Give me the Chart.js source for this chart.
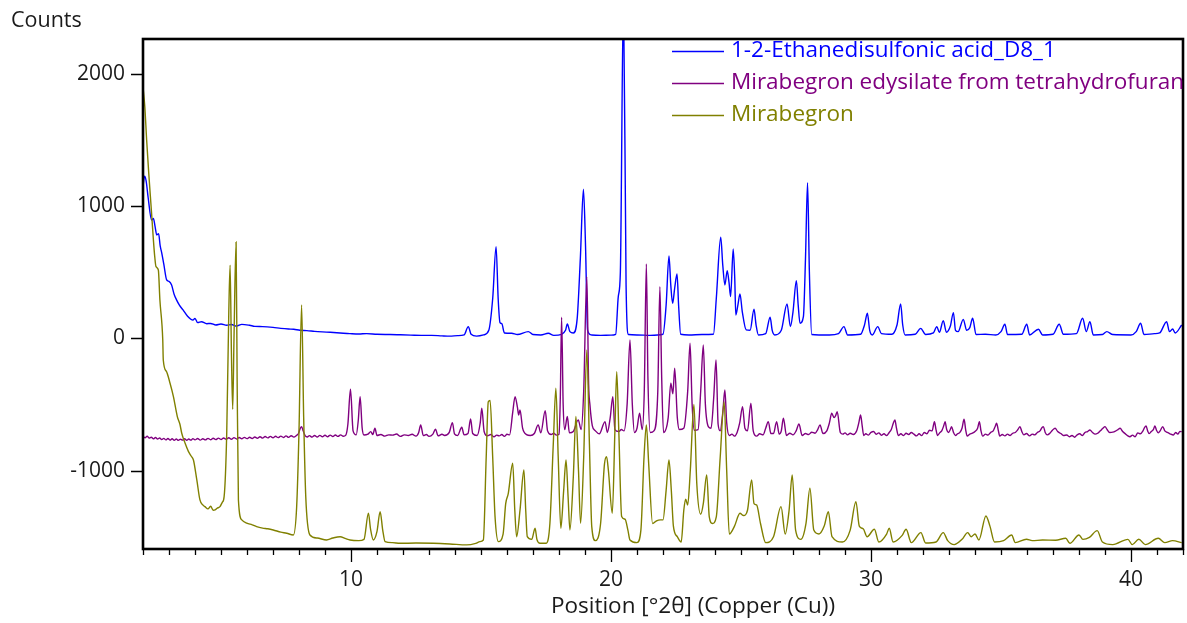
<!DOCTYPE html>
<html>
<head>
<meta charset="utf-8">
<script src="https://cdn.jsdelivr.net/npm/chart.js@4/dist/chart.umd.min.js"></script>
<style>
  html, body { margin: 0; padding: 0; background: #ffffff; }
  #wrap { width: 1187px; height: 623px; }
</style>
</head>
<body>
<div id="wrap"><canvas id="xrpd" width="1187" height="623"></canvas></div>
<script>
// Diffraction patterns: [position °2θ, counts] (offset traces as plotted)
const ethanedisulfonicAcid = [
  [2.00,1150],[2.06,1225],[2.12,1190],[2.20,1060],[2.33,894],[2.40,905],[2.46,850],[2.53,781],[2.60,790],[2.66,700],
  [2.72,645],[2.80,560],[2.91,441],[3.00,430],[3.10,403],[3.20,330],[3.29,290],[3.40,250],[3.54,214],[3.70,170],
  [3.92,138],[4.00,150],[4.10,118],[4.25,125],[4.45,110],[4.60,112],[4.80,100],[5.00,108],[5.22,98],[5.40,104],
  [5.60,92],[5.80,105],[6.10,98],[6.30,90],[6.60,88],[7.00,82],[7.30,75],[7.60,70],[7.80,68],[8.04,60],
  [8.30,58],[8.60,52],[8.90,48],[9.20,45],[9.58,40],[9.96,35],[10.30,32],[10.60,35],[11.00,30],[11.50,28],
  [11.90,26],[12.30,24],[12.70,22],[13.10,22],[13.50,18],[13.80,16],[14.10,20],[14.35,25],[14.51,88],[14.62,30],
  [14.83,16],[15.10,25],[15.30,60],[15.45,300],[15.58,692],[15.66,300],[15.73,118],[15.80,110],[15.90,40],[16.18,38],
  [16.40,28],[16.82,50],[17.00,28],[17.30,25],[17.59,38],[17.80,22],[18.10,30],[18.25,60],[18.32,108],[18.42,50],
  [18.55,40],[18.70,150],[18.82,600],[18.94,1126],[19.02,700],[19.10,60],[19.25,25],[19.60,22],[20.00,24],[20.18,30],
  [20.28,315],[20.36,500],[20.48,2600],[20.58,400],[20.67,28],[21.00,25],[21.50,22],[22.00,30],[22.12,250],[22.23,622],
  [22.30,400],[22.37,264],[22.45,380],[22.54,486],[22.60,250],[22.68,30],[23.00,25],[23.50,28],[23.94,30],[24.05,300],
  [24.22,763],[24.30,550],[24.38,403],[24.47,511],[24.54,420],[24.60,315],[24.70,675],[24.76,450],[24.80,176],[24.88,250],
  [24.96,335],[25.05,200],[25.20,63],[25.35,60],[25.50,219],[25.58,100],[25.67,25],[25.95,35],[26.12,159],[26.20,60],
  [26.30,25],[26.55,60],[26.77,259],[26.90,88],[27.00,200],[27.13,435],[27.20,250],[27.27,113],[27.40,163],[27.48,600],
  [27.56,1176],[27.63,500],[27.72,28],[28.00,25],[28.40,25],[28.75,35],[28.96,88],[29.10,25],[29.60,30],[29.75,100],
  [29.86,189],[29.95,60],[30.05,25],[30.26,88],[30.40,35],[30.80,30],[31.00,100],[31.14,259],[31.22,100],[31.31,25],
  [31.70,30],[31.91,75],[32.10,28],[32.40,40],[32.53,88],[32.63,45],[32.78,133],[32.90,45],[33.05,90],[33.17,194],
  [33.25,60],[33.35,50],[33.55,143],[33.68,60],[33.80,80],[33.91,151],[34.04,28],[34.40,30],[34.80,25],[35.00,50],
  [35.15,106],[35.25,28],[35.80,30],[35.99,106],[36.10,25],[36.44,68],[36.60,25],[37.00,30],[37.24,106],[37.40,30],
  [37.90,35],[38.14,151],[38.28,50],[38.42,125],[38.55,25],[38.90,28],[39.07,50],[39.30,28],[40.00,25],[40.20,50],
  [40.37,113],[40.50,28],[40.90,35],[41.10,40],[41.37,125],[41.48,50],[41.60,70],[41.70,40],[41.95,100]
];

const mirabegronEdysilateTHF = [
  [2.00,-745],[2.08,-752],[2.16,-740],[2.24,-755],[2.32,-748],[2.40,-760],[2.48,-750],[2.56,-762],[2.64,-754],[2.72,-766],
  [2.80,-757],[2.88,-768],[2.96,-758],[3.04,-770],[3.12,-760],[3.20,-771],[3.28,-762],[3.36,-772],[3.44,-763],[3.52,-770],
  [3.60,-760],[3.68,-771],[3.76,-762],[3.84,-770],[3.92,-759],[4.00,-768],[4.10,-758],[4.20,-770],[4.30,-760],[4.40,-768],
  [4.50,-757],[4.60,-767],[4.70,-756],[4.80,-766],[4.90,-755],[5.00,-765],[5.10,-754],[5.20,-764],[5.30,-752],[5.40,-763],
  [5.50,-751],[5.60,-761],[5.70,-750],[5.80,-760],[5.90,-749],[6.00,-759],[6.10,-748],[6.20,-758],[6.30,-746],[6.40,-756],
  [6.50,-744],[6.60,-755],[6.70,-743],[6.80,-753],[6.90,-742],[7.00,-752],[7.10,-741],[7.20,-751],[7.30,-740],[7.40,-750],
  [7.50,-738],[7.60,-749],[7.70,-737],[7.80,-747],[7.90,-735],[7.98,-720],[8.05,-680],[8.10,-668],[8.16,-700],[8.24,-738],
  [8.32,-746],[8.40,-736],[8.50,-747],[8.60,-735],[8.70,-746],[8.80,-734],[8.90,-745],[9.00,-733],[9.10,-744],[9.20,-732],
  [9.30,-743],[9.40,-731],[9.50,-742],[9.60,-730],[9.70,-741],[9.80,-732],[9.88,-650],[9.98,-385],[10.08,-700],[10.20,-730],
  [10.28,-620],[10.35,-441],[10.43,-680],[10.50,-731],[10.65,-725],[10.76,-706],[10.84,-728],[10.92,-680],[11.00,-735],[11.15,-728],
  [11.30,-740],[11.45,-730],[11.60,-732],[11.75,-724],[11.90,-742],[12.05,-730],[12.20,-735],[12.35,-726],[12.50,-740],[12.60,-715],
  [12.68,-655],[12.78,-735],[12.90,-728],[13.00,-742],[13.15,-725],[13.25,-688],[13.35,-738],[13.50,-726],[13.60,-735],[13.78,-712],
  [13.90,-638],[13.98,-722],[14.10,-735],[14.26,-673],[14.35,-730],[14.50,-720],[14.60,-610],[14.68,-720],[14.85,-735],[14.97,-640],
  [15.03,-529],[15.12,-705],[15.25,-738],[15.38,-728],[15.50,-745],[15.60,-732],[15.70,-738],[15.80,-728],[15.90,-742],[16.00,-726],
  [16.10,-730],[16.22,-560],[16.31,-441],[16.40,-520],[16.45,-580],[16.50,-542],[16.60,-680],[16.75,-728],[16.90,-735],[17.05,-720],
  [17.20,-655],[17.30,-715],[17.47,-547],[17.56,-700],[17.70,-728],[17.80,-718],[17.90,-732],[18.00,-725],[18.05,-450],[18.10,159],
  [18.16,-500],[18.22,-690],[18.32,-592],[18.40,-715],[18.55,-705],[18.74,-617],[18.85,-690],[18.95,-400],[19.07,466],[19.14,-350],
  [19.19,-504],[19.28,-660],[19.40,-700],[19.55,-722],[19.77,-630],[19.86,-712],[19.97,-600],[20.07,-441],[20.15,-690],[20.30,-705],
  [20.40,-690],[20.50,-700],[20.62,-500],[20.73,-13],[20.82,-500],[20.90,-712],[21.00,-680],[21.10,-567],[21.20,-690],[21.28,-400],
  [21.36,562],[21.42,-300],[21.51,-712],[21.65,-700],[21.80,-400],[21.88,390],[21.95,-300],[22.02,-712],[22.20,-600],[22.30,-340],
  [22.38,-420],[22.45,-227],[22.55,-600],[22.63,-690],[22.80,-680],[22.95,-400],[23.04,-38],[23.12,-500],[23.20,-695],[23.35,-690],
  [23.45,-400],[23.55,-51],[23.63,-500],[23.75,-670],[23.85,-680],[23.95,-450],[24.04,-164],[24.12,-650],[24.20,-700],[24.30,-560],
  [24.38,-390],[24.45,-640],[24.55,-735],[24.65,-725],[24.75,-740],[24.85,-712],[24.95,-640],[25.06,-517],[25.15,-680],[25.25,-700],
  [25.38,-491],[25.47,-700],[25.60,-740],[25.72,-722],[25.85,-730],[25.95,-680],[26.05,-630],[26.15,-720],[26.25,-720],[26.37,-630],
  [26.47,-725],[26.55,-700],[26.63,-605],[26.75,-735],[26.88,-718],[27.00,-730],[27.12,-700],[27.23,-648],[27.35,-735],[27.48,-720],
  [27.60,-728],[27.72,-710],[27.85,-718],[27.95,-690],[28.04,-655],[28.15,-720],[28.30,-700],[28.40,-640],[28.49,-567],[28.58,-600],
  [28.64,-585],[28.70,-555],[28.82,-712],[28.92,-725],[29.00,-715],[29.10,-730],[29.20,-718],[29.32,-728],[29.45,-700],[29.53,-640],
  [29.60,-580],[29.66,-660],[29.72,-735],[29.80,-722],[29.90,-732],[30.00,-712],[30.10,-705],[30.20,-726],[30.30,-715],[30.40,-733],
  [30.50,-722],[30.60,-735],[30.70,-712],[30.78,-690],[30.86,-640],[30.92,-617],[30.98,-680],[31.05,-735],[31.15,-722],[31.25,-735],
  [31.35,-718],[31.45,-728],[31.55,-712],[31.65,-725],[31.75,-738],[31.85,-722],[31.95,-736],[32.05,-712],[32.15,-722],[32.25,-695],
  [32.35,-700],[32.44,-630],[32.50,-690],[32.56,-735],[32.64,-715],[32.72,-700],[32.80,-660],[32.85,-630],[32.91,-690],[32.98,-712],
  [33.05,-690],[33.10,-668],[33.17,-710],[33.25,-735],[33.33,-722],[33.42,-712],[33.50,-680],[33.58,-612],[33.64,-690],[33.70,-740],
  [33.80,-725],[33.90,-718],[34.00,-705],[34.10,-680],[34.17,-630],[34.23,-700],[34.30,-740],[34.40,-725],[34.50,-732],[34.60,-712],
  [34.70,-700],[34.78,-665],[34.83,-642],[34.90,-700],[34.95,-740],[35.05,-728],[35.15,-738],[35.25,-725],[35.35,-735],[35.45,-718],
  [35.55,-712],[35.65,-690],[35.73,-668],[35.80,-705],[35.88,-730],[35.98,-720],[36.10,-738],[36.20,-725],[36.30,-730],[36.40,-712],
  [36.50,-700],[36.58,-675],[36.63,-668],[36.70,-712],[36.78,-730],[36.88,-718],[36.98,-695],[37.08,-680],[37.18,-705],[37.30,-720],
  [37.40,-735],[37.53,-731],[37.63,-745],[37.73,-735],[37.83,-748],[37.93,-730],[38.03,-722],[38.13,-735],[38.23,-712],[38.33,-705],
  [38.42,-693],[38.52,-712],[38.62,-725],[38.72,-718],[38.82,-700],[38.92,-680],[39.00,-668],[39.08,-690],[39.18,-712],[39.30,-710],
  [39.40,-702],[39.50,-690],[39.58,-680],[39.68,-705],[39.80,-725],[39.88,-738],[39.96,-744],[40.06,-732],[40.16,-745],[40.26,-715],
  [40.36,-722],[40.46,-700],[40.52,-675],[40.58,-663],[40.64,-700],[40.70,-720],[40.78,-705],[40.86,-690],[40.92,-663],[40.98,-695],
  [41.05,-715],[41.12,-700],[41.22,-668],[41.30,-700],[41.40,-712],[41.50,-722],[41.63,-731],[41.72,-712],[41.80,-725],[41.88,-705],
  [41.95,-706]
];

const mirabegron = [
  [2.00,1900],[2.07,1750],[2.14,1499],[2.22,1250],[2.33,945],[2.40,743],[2.45,620],[2.50,541],[2.59,516],[2.65,289],
  [2.76,-13],[2.78,-164],[2.90,-250],[3.04,-340],[3.17,-441],[3.32,-592],[3.42,-650],[3.49,-718],[3.62,-794],[3.75,-857],
  [3.85,-890],[3.94,-920],[4.07,-1071],[4.19,-1222],[4.30,-1260],[4.38,-1273],[4.50,-1290],[4.60,-1270],[4.70,-1300],[4.77,-1298],
  [4.85,-1285],[4.96,-1273],[5.05,-1240],[5.12,-1197],[5.22,-718],[5.30,200],[5.35,553],[5.40,-100],[5.45,-537],[5.50,0],
  [5.58,727],[5.62,-300],[5.67,-1222],[5.80,-1373],[5.99,-1398],[6.20,-1410],[6.37,-1424],[6.60,-1435],[6.80,-1440],[7.01,-1449],
  [7.30,-1465],[7.53,-1474],[7.78,-1487],[7.91,-1273],[8.00,-700],[8.10,252],[8.18,-600],[8.26,-1197],[8.42,-1487],[8.70,-1510],
  [9.06,-1525],[9.30,-1510],[9.58,-1500],[9.80,-1515],[9.96,-1525],[10.30,-1530],[10.50,-1520],[10.67,-1323],[10.75,-1440],[10.86,-1525],
  [11.00,-1460],[11.12,-1311],[11.22,-1450],[11.31,-1537],[11.60,-1545],[11.88,-1550],[12.50,-1548],[13.17,-1550],[13.80,-1555],[14.45,-1562],
  [14.80,-1550],[14.96,-1537],[15.09,-1525],[15.20,-900],[15.28,-480],[15.35,-470],[15.45,-900],[15.54,-1348],[15.67,-1537],[15.85,-1480],
  [15.95,-1250],[16.05,-1172],[16.22,-945],[16.30,-1300],[16.37,-1500],[16.50,-1300],[16.65,-996],[16.72,-1300],[16.78,-1500],[16.95,-1520],
  [17.08,-1436],[17.15,-1520],[17.27,-1550],[17.50,-1550],[17.65,-1400],[17.78,-800],[17.88,-378],[17.97,-900],[18.07,-1436],[18.18,-1150],
  [18.27,-920],[18.35,-1200],[18.42,-1449],[18.55,-1050],[18.65,-592],[18.75,-1000],[18.83,-1398],[18.95,-900],[19.07,-88],[19.17,-800],
  [19.26,-1424],[19.40,-1530],[19.60,-1400],[19.75,-950],[19.83,-895],[19.90,-1000],[20.05,-1323],[20.15,-700],[20.22,-252],[20.30,-700],
  [20.41,-1348],[20.54,-1368],[20.65,-1450],[20.73,-1525],[21.00,-1545],[21.15,-1450],[21.27,-900],[21.36,-655],[21.45,-950],[21.60,-1400],
  [21.75,-1380],[21.90,-1373],[22.00,-1373],[22.12,-1150],[22.23,-920],[22.32,-1150],[22.40,-1420],[22.55,-1500],[22.70,-1540],[22.80,-1300],
  [22.87,-1217],[22.95,-1260],[23.05,-1000],[23.19,-500],[23.30,-1100],[23.45,-1330],[23.55,-1250],[23.68,-1033],[23.78,-1350],[23.90,-1400],
  [24.05,-1350],[24.20,-900],[24.35,-479],[24.45,-1000],[24.55,-1480],[24.75,-1420],[24.96,-1323],[25.10,-1340],[25.25,-1300],[25.41,-1071],
  [25.50,-1250],[25.60,-1260],[25.75,-1400],[25.95,-1545],[26.25,-1500],[26.54,-1273],[26.70,-1480],[26.85,-1300],[26.97,-1033],[27.10,-1450],
  [27.30,-1520],[27.50,-1400],[27.65,-1134],[27.80,-1450],[28.00,-1480],[28.20,-1420],[28.36,-1311],[28.50,-1500],[28.90,-1540],[29.20,-1450],
  [29.42,-1235],[29.55,-1420],[29.70,-1440],[29.85,-1500],[30.13,-1444],[30.30,-1540],[30.60,-1480],[30.70,-1436],[30.85,-1540],[31.20,-1490],
  [31.35,-1444],[31.55,-1545],[31.92,-1469],[32.10,-1548],[32.50,-1540],[32.78,-1469],[32.95,-1530],[33.20,-1560],[33.50,-1520],[33.72,-1469],
  [33.85,-1500],[34.00,-1480],[34.15,-1525],[34.42,-1343],[34.58,-1424],[34.75,-1540],[35.10,-1530],[35.41,-1487],[35.55,-1545],[35.98,-1519],
  [36.20,-1530],[36.60,-1525],[37.10,-1527],[37.49,-1512],[37.65,-1550],[38.00,-1487],[38.15,-1520],[38.40,-1505],[38.70,-1454],[38.90,-1540],
  [39.30,-1560],[39.88,-1520],[40.05,-1560],[40.30,-1519],[40.55,-1560],[41.05,-1512],[41.30,-1545],[41.60,-1530],[41.95,-1545]
];

const seriesNames = ['1-2-Ethanedisulfonic acid_D8_1', 'Mirabegron edysilate from tetrahydrofuran', 'Mirabegron'];
const seriesColors = ['#0000ff', '#800080', '#808000'];
const xTickLabels = [10, 20, 30, 40];
const yTickLabels = [-1000, 0, 1000, 2000];
const xTitle = 'Position [°2θ] (Copper (Cu))';
const yTitle = 'Counts';

const FONT = '"Open Sans", "Noto Sans", sans-serif';

const toPoints = arr => arr.map(p => ({ x: p[0], y: p[1] }));

// Frame, tick marks, tick labels, axis titles and legend
const decorations = {
  id: 'decorations',
  afterDatasetsDraw(chart) {
    const { ctx, chartArea: a, scales: { x, y } } = chart;
    ctx.save();
    ctx.strokeStyle = '#000';
    ctx.lineWidth = 2.6;
    ctx.strokeRect(a.left, a.top, a.right - a.left, a.bottom - a.top);

    // x ticks: minor every 1°, major every 10°
    ctx.lineWidth = 1.3;
    ctx.beginPath();
    for (let v = Math.ceil(x.min); v <= x.max; v++) {
      const px = Math.round(x.getPixelForValue(v)) + 0.5;
      const len = (v % 10 === 0) ? 13 : 6;
      ctx.moveTo(px, a.bottom);
      ctx.lineTo(px, a.bottom + len);
    }
    // y ticks
    yTickLabels.forEach(v => {
      const py = Math.round(y.getPixelForValue(v)) + 0.5;
      ctx.moveTo(a.left - 12, py);
      ctx.lineTo(a.left, py);
    });
    ctx.stroke();

    ctx.fillStyle = '#1a1a1a';
    ctx.textBaseline = 'middle';
    ctx.font = '21px ' + FONT;
    ctx.textAlign = 'right';
    yTickLabels.forEach(v => ctx.fillText(String(v), a.left - 18, y.getPixelForValue(v)));
    ctx.textAlign = 'center';
    xTickLabels.forEach(v => ctx.fillText(String(v), x.getPixelForValue(v), a.bottom + 31));
    // x-axis title, centred a little right of the plot's middle
    ctx.font = '22.5px ' + FONT;
    ctx.fillText(xTitle, (a.left + a.right) / 2 + 30, a.bottom + 58);
    ctx.font = '21.5px ' + FONT;
    ctx.textAlign = 'left';
    ctx.fillText(yTitle, 11, 21);

    // legend
    const rows = [51, 83, 115];
    ctx.font = '22.5px ' + FONT;
    seriesNames.forEach((name, i) => {
      ctx.strokeStyle = seriesColors[i];
      ctx.lineWidth = 1.3;
      ctx.beginPath();
      ctx.moveTo(672, rows[i] + 0.5);
      ctx.lineTo(724, rows[i] + 0.5);
      ctx.stroke();
      ctx.fillStyle = seriesColors[i];
      ctx.fillText(name, 731, rows[i]);
    });
    ctx.restore();
  }
};

new Chart(document.getElementById('xrpd'), {
  type: 'line',
  data: {
    datasets: [
      { label: seriesNames[0], data: toPoints(ethanedisulfonicAcid), borderColor: seriesColors[0], order: 2 },
      { label: seriesNames[1], data: toPoints(mirabegronEdysilateTHF), borderColor: seriesColors[1], order: 1 },
      { label: seriesNames[2], data: toPoints(mirabegron), borderColor: seriesColors[2], order: 0 }
    ]
  },
  options: {
    responsive: false,
    animation: false,
    events: [],
    layout: { padding: { top: 39, right: 4, left: 0, bottom: 0 } },
    elements: {
      point: { radius: 0 },
      line: { borderWidth: 1.4, cubicInterpolationMode: 'monotone', fill: false }
    },
    plugins: { legend: { display: false }, tooltip: { enabled: false } },
    scales: {
      x: {
        type: 'linear', min: 2, max: 42,
        grid: { display: false }, border: { display: false },
        ticks: { display: false },
        afterFit(s) { s.height = 74; }
      },
      y: {
        type: 'linear', min: -1593, max: 2262,
        grid: { display: false }, border: { display: false },
        ticks: { display: false },
        afterFit(s) { s.width = 143; }
      }
    }
  },
  plugins: [decorations]
});
</script>
</body>
</html>
